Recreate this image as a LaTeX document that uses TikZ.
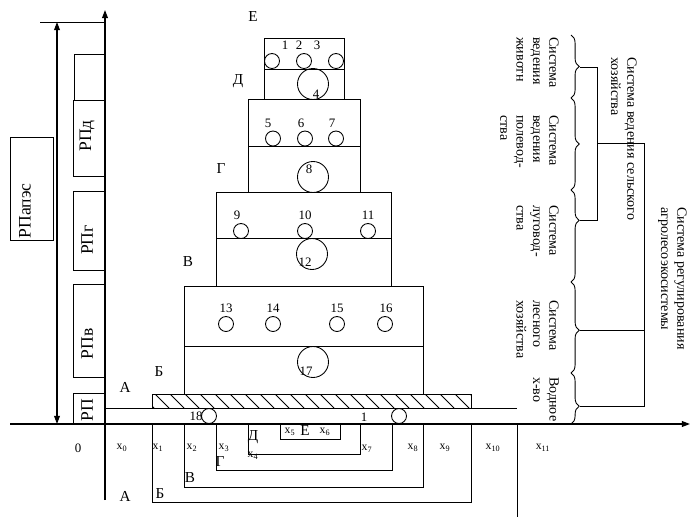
\documentclass[tikz,border=0pt]{standalone}
\usepackage{fontspec}
\setmainfont{Liberation Serif}
\usetikzlibrary{arrows.meta,decorations.pathreplacing}

\begin{document}
\begin{tikzpicture}[
    x=0.03cm, y=-0.03cm,
    line/.style={line width=0.75pt},
    axis/.style={line width=1.1pt, -{Triangle[length=7pt,width=5pt]}},
    ball/.style={circle, draw, line width=0.75pt, minimum size=0.45cm, inner sep=0pt},
    bigball/.style={circle, draw, line width=0.75pt, minimum size=0.93cm, inner sep=0pt},
    num/.style={font=\fontsize{11}{13}\selectfont, inner sep=0pt},
    letter/.style={font=\fontsize{13}{15}\selectfont, inner sep=0pt},
    xlab/.style={font=\fontsize{10}{12}\selectfont, inner sep=0pt},
    rp/.style={rotate=90, font=\fontsize{15}{18}\selectfont, inner sep=0pt},
    sys/.style={rotate=-90, anchor=north west, align=left, inner sep=0pt, font=\fontsize{12}{14}\selectfont},
    grp/.style={decorate, line width=0.75pt}
]
\useasboundingbox (0,0) rectangle (692,525);

% Axes
\coordinate (xfrom) at (10,424);
\coordinate (xto) at (690,424);
\coordinate (yfrom) at (105,500);
\coordinate (yto) at (105,10);
\draw[axis] (xfrom) -- (xto);
\draw[axis] (yfrom) -- (yto);

% Height of the whole system
\coordinate (htop) at (57,22);
\coordinate (hbot) at (57,424);
\draw[line] (40,22) -- (105,22);
\draw[line width=0.9pt, {Triangle[length=7pt,width=5pt]}-{Triangle[length=7pt,width=5pt]}] (htop) -- (hbot);

% RP boxes
\draw[line] (10,137) rectangle (53,240);
\draw[line] (74,54) rectangle (105,100);
\draw[line] (73,100) rectangle (105,176);
\draw[line] (73,191) rectangle (105,270);
\draw[line] (73,284) rectangle (105,377);
\draw[line] (73,393) rectangle (105,424);
\node[rp] (rpall) at (25,211) {РПапэс};
\node[rp] (rpd) at (87,136) {РПд};
\node[rp] (rpg) at (87,240) {РПг};
\node[rp] (rpv) at (87,344) {РПв};
\node[rp] (rp) at (87,410) {РП};

% Tiers
\draw[line] (264,38) rectangle (344,99);
\draw[line] (264,69) -- (344,69);
\draw[line] (248,99) rectangle (360,192);
\draw[line] (248,146) -- (360,146);
\draw[line] (216,192) rectangle (391,286);
\draw[line] (216,238) -- (391,238);
\draw[line] (184,286) rectangle (423,394);
\draw[line] (184,346) -- (423,346);

% Hatched slab and strip
\draw[line] (152,408) -- (152,394) -- (471,394) -- (471,408);
\begin{scope}
  \clip (152,394) rectangle (471,408);
  \foreach \h in {140,155,...,470}
    \draw[line] (\h,394) -- (\h+14,408);
\end{scope}
\draw[line] (105,408) -- (517,408);

% Circles
\node[ball] (c1) at (272,61) {};
\node[ball] (c2) at (304,61) {};
\node[ball] (c3) at (336,61) {};
\node[bigball] (c4) at (313,84) {};
\node[ball] (c5) at (273,138.5) {};
\node[ball] (c6) at (305,138.5) {};
\node[ball] (c7) at (336,138.5) {};
\node[bigball] (c8) at (313,177) {};
\node[ball] (c9) at (241,231) {};
\node[ball] (c10) at (305,231) {};
\node[ball] (c11) at (368,231) {};
\node[bigball] (c12) at (312,254) {};
\node[ball] (c13) at (226,324) {};
\node[ball] (c14) at (273,324) {};
\node[ball] (c15) at (337,324) {};
\node[ball] (c16) at (385,324) {};
\node[bigball] (c17) at (313,362) {};
\node[ball] (c18) at (209,416) {};
\node[ball] (c19) at (399,416) {};

% Numbers
\node[num] (n1) at (285,45) {1};
\node[num] (n2) at (299,45) {2};
\node[num] (n3) at (317,45) {3};
\node[num] (n4) at (316,94) {4};
\node[num] (n5) at (268,123) {5};
\node[num] (n6) at (301,123) {6};
\node[num] (n7) at (332,123) {7};
\node[num] (n8) at (309,169) {8};
\node[num] (n9) at (237,215) {9};
\node[num] (n10) at (305,215) {10};
\node[num] (n11) at (368,215) {11};
\node[num] (n12) at (305,262) {12};
\node[num] (n13) at (226,308) {13};
\node[num] (n14) at (273,308) {14};
\node[num] (n15) at (337,308) {15};
\node[num] (n16) at (386,308) {16};
\node[num] (n17) at (306,371) {17};
\node[num] (n18) at (196,416) {18};
\node[num] (n19) at (364,417) {1};

% Level letters
\node[letter] (le) at (253,17) {Е};
\node[letter] (ld) at (238,81) {Д};
\node[letter] (lg) at (221,169) {Г};
\node[letter] (lv) at (188,262) {В};
\node[letter] (lb) at (159,372) {Б};
\node[letter] (la) at (125,387) {А};

% Zones under the axis
\draw[line] (152,424) -- (152,502) -- (471,502) -- (471,424);
\draw[line] (184,424) -- (184,487) -- (423,487) -- (423,424);
\draw[line] (216,424) -- (216,470) -- (392,470) -- (392,424);
\draw[line] (248,424) -- (248,454) -- (360,454) -- (360,424);
\draw[line] (280,424) -- (280,439) -- (340,439) -- (340,424);
\draw[line] (517,424) -- (517,517);
\node[letter] (za) at (125,496) {А};
\node[letter] (zb) at (160,494) {Б};
\node[letter] (zv) at (190,478) {В};
\node[letter] (zg) at (220,462) {Г};
\node[letter] (zd) at (253,437) {Д};
\node[letter] (ze) at (305,431) {Е};
\node[xlab] (x5) at (290,432) {x\textsubscript{5}};
\node[xlab] (x6) at (325,432) {x\textsubscript{6}};

% Axis marks
\node[letter, font=\fontsize{11}{13}\selectfont] (zero) at (78,448) {0};
\node[xlab] (x0) at (122,448) {x\textsubscript{0}};
\node[xlab] (x1) at (158,448) {x\textsubscript{1}};
\node[xlab] (x2) at (192,448) {x\textsubscript{2}};
\node[xlab] (x3) at (224,448) {x\textsubscript{3}};
\node[xlab] (x4) at (253,456) {x\textsubscript{4}};
\node[xlab] (x7) at (367,449) {x\textsubscript{7}};
\node[xlab] (x8) at (413,448) {x\textsubscript{8}};
\node[xlab] (x9) at (445,448) {x\textsubscript{9}};
\node[xlab] (x10) at (493,448) {x\textsubscript{10}};
\node[xlab] (x11) at (543,448) {x\textsubscript{11}};

% Subsystems
\node[sys] (s1) at (559,37) {Система\\ведения\\животн};
\node[sys] (s2) at (559,115) {Система\\ведения\\полевод-\\ства};
\node[sys] (s3) at (559,205) {Система\\луговод-\\ства};
\node[sys] (s4) at (559,300) {Система\\лесного\\хозяйства};
\node[sys] (s5) at (559,377) {Водное\\х-во};
\node[sys] (agr) at (637,57) {Система ведения сельского\\хозяйства};
\node[sys] (reg) at (687,207) {Система регулирования\\агролесоэкосистемы};

% Braces
\draw[grp, decoration={brace, amplitude=7pt}] (571,35) -- (571,98);
\draw[grp, decoration={brace, amplitude=7pt}] (571,98) -- (571,190);
\draw[grp, decoration={brace, amplitude=7pt, aspect=0.33}] (571,190) -- (571,282);
\draw[grp, decoration={brace, amplitude=7pt, aspect=0.53}] (571,282) -- (571,373);
\draw[grp, decoration={brace, amplitude=7pt, aspect=0.65}] (571,373) -- (571,424);
\coordinate (t1) at (580,67);
\coordinate (t3) at (580,220);
\coordinate (t4) at (580,330);
\coordinate (t5) at (580,406);
\draw[line] (t1) -- (597,67) -- (597,220) -- (t3);
\draw[line] (597,143) -- (644,143) -- (644,406) -- (t5);
\draw[line] (t4) -- (644,330);

\end{tikzpicture}
\end{document}
